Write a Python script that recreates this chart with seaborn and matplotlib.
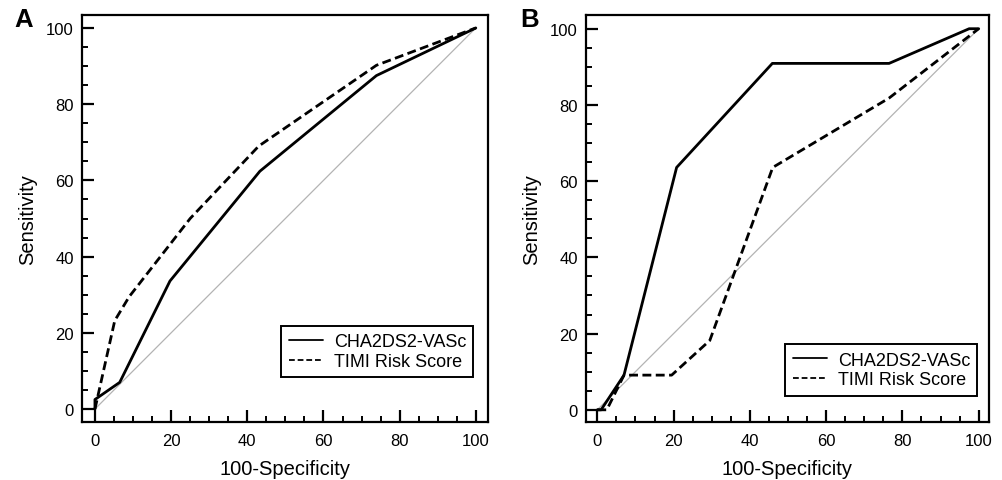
import matplotlib
matplotlib.use("Agg")
import matplotlib.pyplot as plt
from matplotlib.ticker import MultipleLocator
import numpy as np
import pandas as pd
import seaborn as sns

sns.set_style("ticks")
plt.rcParams["font.family"] = ["Liberation Sans", "DejaVu Sans"]
plt.rcParams.update({
    "text.color": "black",
    "axes.labelcolor": "black",
    "xtick.color": "black",
    "ytick.color": "black",
})

score_names = ["CHA2DS2-VASc", "TIMI Risk Score"]

# Panel A: ROC points (100-Specificity, Sensitivity)
a_cha_x = [0, 0, 6.5, 19.7, 43.3, 73.9, 100]
a_cha_y = [0, 2.5, 7.0, 33.6, 62.4, 87.5, 100]
a_timi_x = [0, 5.2, 9.0, 25.0, 43.0, 73.9, 100]
a_timi_y = [0, 23.2, 29.5, 50.0, 69.0, 90.2, 100]

# Panel B: ROC points (100-Specificity, Sensitivity)
b_cha_x = [0, 1.0, 7.0, 20.8, 45.9, 76.5, 97.5, 100]
b_cha_y = [0, 0, 9.1, 63.6, 90.9, 90.9, 100, 100]
b_timi_x = [0, 2.5, 7.0, 19.5, 29.5, 46.0, 76.5, 100]
b_timi_y = [0, 0, 9.1, 9.1, 18.2, 63.6, 81.8, 100]

panel_letters = ["A", "B"]
tick_values = [0, 20, 40, 60, 80, 100]


def roc_frame(cx, cy, tx, ty):
    rows = []
    for n, (xs, ys) in zip(score_names, [(cx, cy), (tx, ty)]):
        for i, (x, y) in enumerate(zip(xs, ys)):
            rows.append({"fpr": x, "tpr": y, "score": n, "order": i})
    return pd.DataFrame(rows)


frames = [
    roc_frame(a_cha_x, a_cha_y, a_timi_x, a_timi_y),
    roc_frame(b_cha_x, b_cha_y, b_timi_x, b_timi_y),
]

fig = plt.figure(figsize=(10.03, 4.81), dpi=100)
ax_a = fig.add_axes([82 / 1003, 58 / 481, 406 / 1003, 407 / 481])
ax_b = fig.add_axes([586 / 1003, 58 / 481, 403 / 1003, 407 / 481])

limits = [((-3.4, 103.2), (-3.4, 103.4)), ((-2.96, 102.7), (-3.2, 103.6))]
legend_anchor = [(0.964, 0.110), (0.971, 0.065)]
letter_x = [14 / 1003, 520 / 1003]

for k, (ax, df) in enumerate(zip([ax_a, ax_b], frames)):
    # chance diagonal
    ax.plot([0, 100], [0, 100], color="#b3b3b3", lw=0.9, zorder=1)
    sns.lineplot(
        data=df, x="fpr", y="tpr", hue="score", style="score",
        palette=["black", "black"],
        dashes={score_names[0]: "", score_names[1]: (3.2, 1.6)},
        estimator=None, sort=False, units="score", linewidth=2.0,
        ax=ax, zorder=3,
    )
    ax.set_xlim(*limits[k][0])
    ax.set_ylim(*limits[k][1])
    ax.set_xticks(tick_values)
    ax.set_yticks(tick_values)
    ax.xaxis.set_minor_locator(MultipleLocator(5))
    ax.yaxis.set_minor_locator(MultipleLocator(5))
    ax.tick_params(which="major", direction="in", length=8.5, width=1.6,
                   labelsize=12, colors="black")
    ax.tick_params(axis="x", which="major", pad=8)
    ax.tick_params(axis="y", which="major", pad=6)
    ax.tick_params(which="minor", direction="in", length=4.5, width=1.4,
                   colors="black")
    ax.tick_params(top=False, right=False, which="both")
    for s in ax.spines.values():
        s.set_visible(True)
        s.set_linewidth(1.6)
        s.set_color("black")
    ax.set_xlabel("100-Specificity", fontsize=14.5, labelpad=8)
    ax.set_ylabel("Sensitivity", fontsize=14.5, labelpad=6)

    handles, labels = ax.get_legend_handles_labels()
    leg = ax.legend(
        handles, labels, loc="lower right", bbox_to_anchor=legend_anchor[k],
        fontsize=13, frameon=True, fancybox=False, framealpha=1,
        edgecolor="black", handlelength=1.9, handletextpad=0.6,
        labelspacing=0.15, borderpad=0.4, borderaxespad=0,
    )
    leg.get_frame().set_linewidth(1.4)
    for h in leg.get_lines():
        h.set_linewidth(1.3)

    fig.text(letter_x[k], 1 - 27 / 481, panel_letters[k], fontsize=18.5,
             fontweight="bold", va="baseline", ha="left")

fig.savefig("out.png", dpi=100)
